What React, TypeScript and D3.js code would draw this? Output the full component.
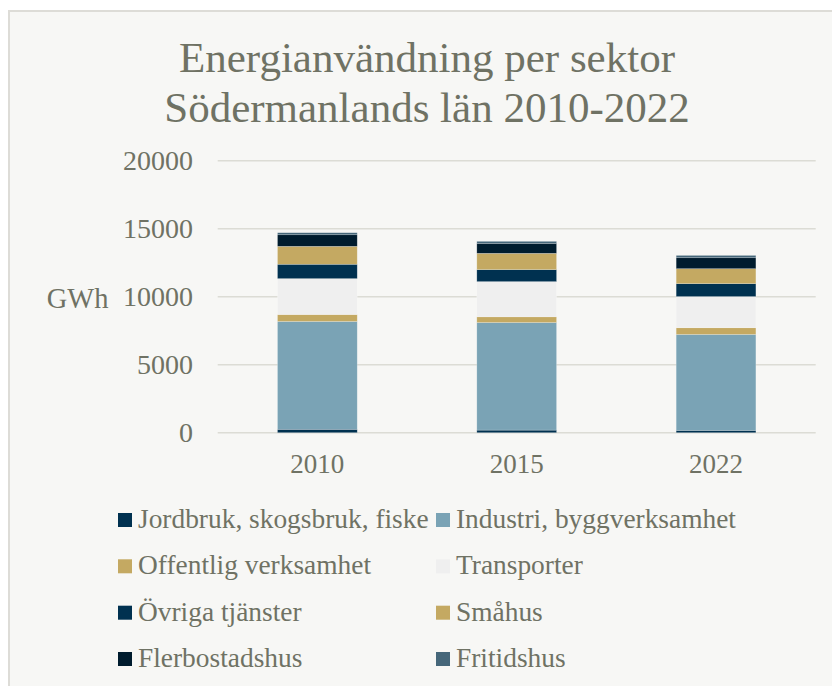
import React from "react";
import * as d3 from "d3";

const years = ["2010", "2015", "2022"];
const sectors = [
  "Jordbruk, skogsbruk, fiske",
  "Industri, byggverksamhet",
  "Offentlig verksamhet",
  "Transporter",
  "Övriga tjänster",
  "Småhus",
  "Flerbostadshus",
  "Fritidshus",
];
const jordbruk = [250, 190, 170];
const industri = [7930, 7910, 7055];
const offentlig = [510, 420, 490];
const transporter = [2640, 2590, 2295];
const ovriga = [1055, 880, 950];
const smahus = [1320, 1200, 1100];
const flerbostad = [850, 730, 805];
const fritidshus = [150, 150, 170];
const yTicks = [0, 5000, 10000, 15000, 20000];
const titleLines = ["Energianvändning per sektor", "Södermanlands län 2010-2022"];

const colors = ["#003150", "#7aa3b5", "#c4a962", "#efefef", "#003150", "#c4a962", "#001c2e", "#46677a"];

const series = [jordbruk, industri, offentlig, transporter, ovriga, smahus, flerbostad, fritidshus];

export default function App() {
  const rows = years.map((y, i) => {
    const r: any = { year: y };
    sectors.forEach((s, k) => (r[s] = series[k][i]));
    return r;
  });
  const stacked = d3.stack().keys(sectors)(rows);

  const x = d3.scaleBand().domain(years).range([217.7, 815.7]).padding(0);
  const y = d3.scaleLinear().domain([0, 20000]).range([432.7, 160.7]);
  const barW = x.bandwidth() * 0.4;
  const font = "'Liberation Serif', 'Times New Roman', serif";
  const textColor = "#6f7264";

  const legendCols = [118, 436];
  const legendRows = [520, 566.3, 612.7, 659];

  return (
    <svg
      width={832}
      height={686}
      style={{ position: "absolute", left: 0, top: 0, background: "#ffffff" }}
      fontFamily={font}
    >
      <rect x={9} y={11} width={840} height={700} fill="#f7f7f5" stroke="#dddcd7" strokeWidth={2} />
      {titleLines.map((t, i) => (
        <text key={t} x={427} y={72 + i * 50} textAnchor="middle" fontSize={43} fill={textColor}>
          {t}
        </text>
      ))}
      {yTicks.map((t) => (
        <g key={t}>
          <line x1={217.7} x2={815.7} y1={y(t)} y2={y(t)} stroke="#dcdcd5" strokeWidth={1.5} />
          <text x={193} y={y(t)} dy="0.34em" textAnchor="end" fontSize={28} fill={textColor}>
            {t}
          </text>
        </g>
      ))}
      <text x={46.7} y={298} dy="0.34em" fontSize={28.5} fill={textColor}>
        GWh
      </text>
      {stacked.map((s, k) => (
        <g key={s.key} fill={colors[k]}>
          {s.map((d: any, i) => (
            <rect
              key={i}
              x={(x(years[i]) as number) + (x.bandwidth() - barW) / 2}
              y={y(d[1])}
              width={barW}
              height={y(d[0]) - y(d[1])}
              stroke="#ffffff"
              strokeOpacity={0.35}
              strokeWidth={0.6}
            />
          ))}
        </g>
      ))}
      {years.map((yr) => (
        <text
          key={yr}
          x={(x(yr) as number) + x.bandwidth() / 2}
          y={473.3}
          textAnchor="middle"
          fontSize={27}
          fill={textColor}
        >
          {yr}
        </text>
      ))}
      {sectors.map((s, k) => {
        const cx = legendCols[k % 2];
        const cy = legendRows[Math.floor(k / 2)];
        return (
          <g key={s}>
            <rect x={cx} y={cy - 7} width={14} height={14} fill={colors[k]} />
            <text x={cx + 20} y={cy + 8} fontSize={27.4} fill={textColor}>
              {s}
            </text>
          </g>
        );
      })}
    </svg>
  );
}
